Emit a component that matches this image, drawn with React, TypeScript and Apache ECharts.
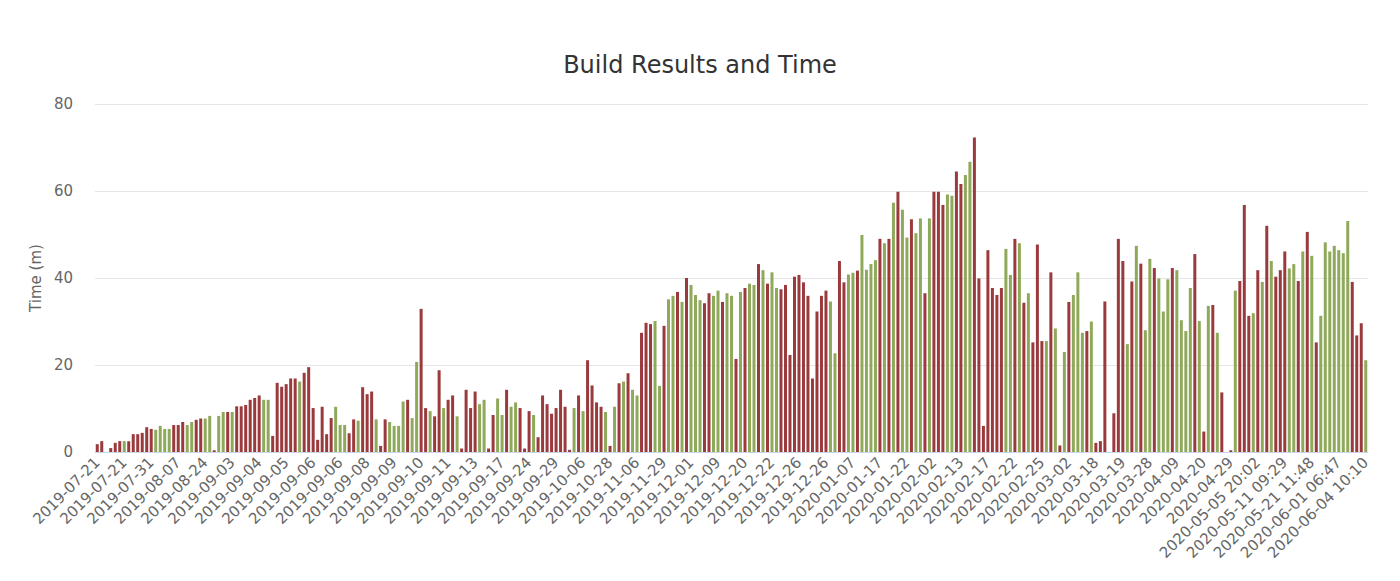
import React, { useEffect, useRef } from "react";
import * as echarts from "echarts";

const tickLabels = [
  "2019-07-21", "2019-07-21", "2019-07-31", "2019-08-07", "2019-08-24", "2019-09-03",
  "2019-09-04", "2019-09-05", "2019-09-06", "2019-09-06", "2019-09-08", "2019-09-09",
  "2019-09-10", "2019-09-11", "2019-09-13", "2019-09-17", "2019-09-24", "2019-09-29",
  "2019-10-06", "2019-10-28", "2019-11-06", "2019-11-29", "2019-12-01", "2019-12-09",
  "2019-12-20", "2019-12-22", "2019-12-26", "2019-12-26", "2020-01-07", "2020-01-17",
  "2020-01-22", "2020-02-02", "2020-02-13", "2020-02-17", "2020-02-22", "2020-02-25",
  "2020-03-02", "2020-03-18", "2020-03-19", "2020-03-28", "2020-04-09", "2020-04-20",
  "2020-04-29", "2020-05-05 20:02", "2020-05-11 09:29", "2020-05-21 11:48",
  "2020-06-01 06:47", "2020-06-04 10:10",
];

// build duration in minutes
const times = [
  1.8, 2.5, 0, 0.9, 2.1, 2.5, 2.5, 2.5, 4.1, 4.1,
  4.4, 5.7, 5.3, 5.1, 6.0, 5.3, 5.3, 6.2, 6.2, 6.9,
  6.2, 6.9, 7.4, 7.7, 7.7, 8.3, 0.4, 8.3, 9.2, 9.2,
  9.2, 10.5, 10.5, 10.8, 12.0, 12.4, 13.0, 12.0, 12.0, 3.7,
  15.9, 15.0, 15.6, 16.9, 16.9, 16.2, 18.2, 19.5, 10.1, 2.8,
  10.4, 4.1, 7.8, 10.4, 6.2, 6.2, 4.3, 7.5, 7.2, 14.9,
  13.3, 13.9, 7.5, 1.4, 7.5, 6.9, 6.0, 6.0, 11.6, 12.0,
  7.8, 20.7, 32.9, 10.1, 9.4, 8.2, 18.8, 10.1, 12.0, 13.0,
  8.2, 0.8, 14.3, 10.1, 13.9, 11.0, 12.0, 0.8, 8.5, 12.3,
  8.5, 14.3, 10.4, 11.4, 10.1, 0.8, 9.4, 8.5, 3.4, 13.0,
  11.0, 8.8, 10.1, 14.3, 10.4, 0.5, 10.1, 13.0, 9.4, 21.1,
  15.3, 11.4, 10.4, 9.2, 1.4, 10.4, 15.8, 16.2, 18.1, 14.3,
  13.0, 27.4, 29.7, 29.4, 30.1, 15.2, 29.0, 35.1, 35.9, 36.8,
  34.5, 40.0, 38.4, 36.1, 34.9, 34.2, 36.5, 35.9, 37.1, 34.5,
  36.5, 35.9, 21.4, 36.8, 37.7, 38.7, 38.4, 43.2, 41.8, 38.7,
  41.3, 37.7, 37.4, 38.4, 22.3, 40.3, 40.7, 39.0, 35.9, 16.9,
  32.3, 35.9, 37.1, 34.6, 22.7, 43.9, 39.0, 40.8, 41.2, 41.7,
  49.9, 41.9, 43.2, 44.1, 49.0, 48.0, 49.0, 57.3, 59.8, 55.7,
  49.3, 53.5, 50.3, 53.7, 36.5, 53.7, 59.8, 59.8, 56.8, 59.2,
  58.9, 64.5, 61.6, 63.7, 66.7, 72.3, 39.9, 6.0, 46.4, 37.7,
  36.1, 37.7, 46.7, 40.7, 49.0, 48.0, 34.3, 36.5, 25.2, 47.7,
  25.5, 25.5, 41.3, 28.4, 1.5, 23.0, 34.5, 36.1, 41.3, 27.4,
  27.8, 30.0, 2.1, 2.5, 34.6, 0, 8.9, 49.0, 43.9, 24.8,
  39.2, 47.4, 43.3, 28.0, 44.4, 42.3, 39.9, 32.3, 39.7, 42.3,
  41.8, 30.3, 27.8, 37.7, 45.5, 30.1, 4.7, 33.6, 33.8, 27.4,
  13.7, 0, 0.4, 37.1, 39.3, 56.8, 31.3, 31.9, 41.8, 39.1,
  52.0, 43.9, 40.3, 41.8, 46.1, 42.2, 43.2, 39.3, 46.1, 50.6,
  45.1, 25.2, 31.3, 48.2, 46.1, 47.4, 46.4, 45.7, 53.1, 39.1,
  26.8, 29.6, 21.1,
];

// F = failed (red), S = success (green)
const results = [
  "F", "F", "F", "F", "F", "F", "S", "F", "F", "F",
  "F", "F", "F", "S", "S", "S", "S", "F", "F", "F",
  "S", "S", "F", "F", "S", "S", "F", "S", "S", "F",
  "S", "F", "F", "F", "F", "F", "F", "S", "S", "F",
  "F", "F", "F", "F", "F", "S", "F", "F", "F", "F",
  "F", "F", "F", "S", "S", "S", "F", "F", "S", "F",
  "F", "F", "S", "F", "F", "S", "S", "S", "S", "F",
  "S", "S", "F", "F", "S", "F", "F", "S", "F", "F",
  "S", "F", "F", "F", "F", "S", "S", "F", "F", "S",
  "S", "F", "S", "S", "F", "F", "F", "S", "F", "F",
  "F", "F", "F", "F", "F", "F", "S", "F", "S", "F",
  "F", "F", "F", "S", "F", "S", "F", "S", "F", "S",
  "S", "F", "F", "F", "S", "S", "F", "S", "S", "F",
  "S", "F", "S", "S", "S", "F", "F", "S", "S", "F",
  "S", "S", "F", "S", "F", "S", "S", "F", "S", "F",
  "S", "S", "F", "F", "F", "F", "F", "F", "F", "F",
  "F", "F", "F", "S", "S", "F", "F", "S", "S", "F",
  "S", "S", "S", "S", "F", "S", "F", "S", "F", "S",
  "S", "F", "S", "S", "F", "S", "F", "F", "F", "S",
  "S", "F", "F", "S", "S", "F", "F", "F", "F", "F",
  "F", "F", "S", "S", "F", "S", "F", "S", "F", "F",
  "F", "S", "F", "S", "F", "S", "F", "S", "S", "S",
  "F", "S", "F", "F", "F", "F", "F", "F", "F", "S",
  "F", "S", "F", "S", "S", "F", "S", "S", "S", "F",
  "S", "S", "S", "S", "F", "S", "F", "S", "F", "S",
  "F", "F", "F", "S", "F", "F", "F", "S", "F", "S",
  "F", "S", "F", "F", "F", "S", "S", "F", "S", "F",
  "S", "F", "S", "S", "S", "S", "S", "S", "S", "F",
  "F", "F", "S",
];

const RED = "#9a3a3d";
const GREEN = "#8fa95b";
const FONT = "DejaVu Sans";

export default function App() {
  const ref = useRef<HTMLDivElement>(null);
  useEffect(() => {
    if (!ref.current) return;
    const chart = echarts.init(ref.current, null, { renderer: "svg" });
    const categories = times.map((_, i) =>
      i % 6 === 0 ? tickLabels[i / 6] : `build ${i + 1}`
    );
    chart.setOption({
      animation: false,
      title: {
        text: "Build Results and Time",
        left: 695,
        textAlign: "center",
        top: 48,
        textStyle: { fontFamily: FONT, fontSize: 24, fontWeight: "normal", color: "#333333" },
      },
      grid: { left: 95, right: 32, top: 104, bottom: 129 },
      xAxis: {
        type: "category",
        data: categories,
        axisLine: { lineStyle: { color: "#ccd6eb" } },
        axisTick: { interval: 5, alignWithLabel: true, length: 10, lineStyle: { color: "#ccd6eb" } },
        axisLabel: {
          interval: 5,
          rotate: 45,
          color: "#666666",
          fontSize: 15,
          fontFamily: FONT,
          margin: 8,
        },
      },
      yAxis: {
        type: "value",
        min: 0,
        max: 80,
        interval: 20,
        name: "Time (m)",
        nameLocation: "middle",
        nameGap: 52,
        nameTextStyle: { color: "#666666", fontSize: 15, fontFamily: FONT },
        axisLabel: { color: "#666666", fontSize: 15, fontFamily: FONT, margin: 22 },
        splitLine: { lineStyle: { color: "#e6e6e6" } },
        axisLine: { show: false },
        axisTick: { show: false },
      },
      series: [
        {
          type: "bar",
          barWidth: 3,
          data: times.map((v, i) => ({
            value: v,
            itemStyle: { color: results[i] === "F" ? RED : GREEN },
          })),
        },
      ],
    });
    return () => chart.dispose();
  }, []);
  return (
    <div
      ref={ref}
      style={{ position: "absolute", left: 0, top: 0, width: 1400, height: 581 }}
    />
  );
}
